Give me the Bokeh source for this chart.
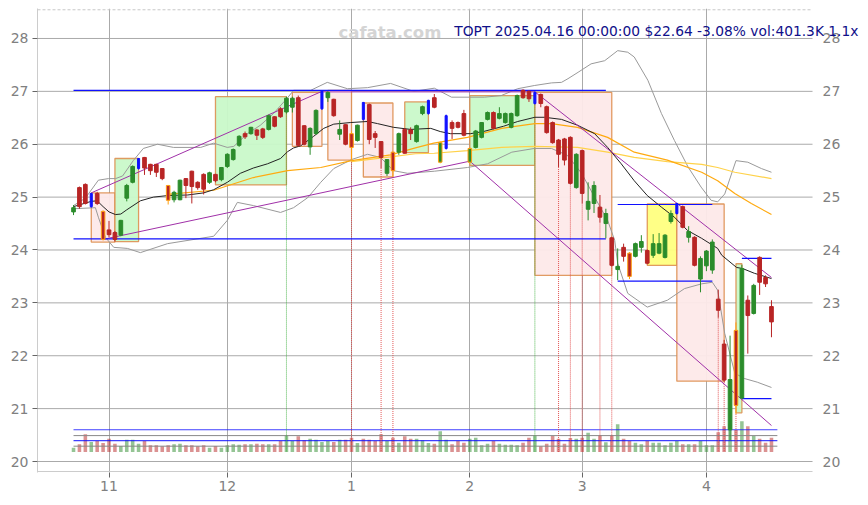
from bokeh.plotting import figure
from bokeh.models import FixedTicker, Range1d, Label
from bokeh.core.properties import value
from bokeh.embed import file_html
from bokeh.resources import INLINE

# ---------------- data ----------------
month_ticks = [6, 26, 47, 67, 86, 107]
month_labels = ["11", "12", "1", "2", "3", "4"]
price_ticks = [20, 21, 22, 23, 24, 25, 26, 27, 28]

opens = [24.72, 25.18, 25.24, 24.82, 25.07, 24.73, 24.38, 24.33, 24.28, 24.98,
         25.28, 25.54, 25.75, 25.62, 25.62, 25.54, 25.22, 24.95, 24.95, 25.35,
         25.49, 25.28, 25.43, 25.28, 25.43, 25.33, 25.58, 25.71, 25.98, 26.20,
         26.20, 26.27, 26.29, 26.28, 26.52, 26.67, 26.61, 26.70, 26.88, 26.35,
         25.95, 26.20, 26.67, 26.88, 26.85, 26.19, 26.37, 26.20, 26.07, 26.79,
         26.75, 26.20, 26.05, 25.45, 25.85, 25.85, 26.28, 26.27, 26.05, 26.58,
         26.58, 26.88, 25.66, 25.92, 26.41, 26.41, 26.58, 25.66, 25.94, 26.13,
         26.47, 26.60, 26.49, 26.41, 26.32, 26.54, 27.02, 27.00, 26.77, 26.94,
         26.71, 26.41, 26.08, 26.10, 26.13, 25.18, 25.88, 24.77, 24.88, 24.81,
         24.50, 24.23, 23.63, 24.05, 23.94, 23.88, 24.05, 23.99, 23.90, 23.94,
         23.86, 24.54, 24.69, 24.82, 24.24, 24.24, 23.45, 23.70, 23.62, 23.07,
         22.22, 20.60, 22.48, 21.20, 23.05, 22.80, 23.86, 23.48, 22.93]
highs = [24.85, 25.20, 25.26, 25.08, 25.10, 24.75, 24.55, 24.36, 24.57, 25.25,
         25.60, 25.74, 25.76, 25.63, 25.63, 25.55, 25.23, 25.12, 25.33, 25.36,
         25.50, 25.30, 25.45, 25.48, 25.44, 25.57, 25.83, 25.92, 26.17, 26.24,
         26.33, 26.29, 26.31, 26.56, 26.53, 26.70, 26.90, 26.90, 26.92, 26.36,
         26.32, 26.66, 27.01, 27.00, 26.86, 26.45, 26.38, 26.25, 26.37, 26.80,
         26.77, 26.25, 26.06, 25.72, 25.86, 26.22, 26.30, 26.32, 26.37, 26.73,
         26.84, 26.95, 26.05, 26.56, 26.45, 26.43, 26.65, 25.94, 26.27, 26.42,
         26.62, 26.62, 26.70, 26.60, 26.60, 26.94, 27.04, 27.02, 27.00, 26.96,
         26.73, 26.43, 26.10, 26.12, 26.15, 25.83, 25.90, 25.28, 25.30, 25.04,
         24.78, 24.25, 24.03, 24.12, 23.96, 24.14, 24.28, 24.01, 24.30, 24.32,
         24.30, 24.75, 24.89, 24.84, 24.45, 24.26, 23.88, 24.00, 24.20, 23.25,
         22.30, 22.38, 22.63, 23.72, 23.14, 23.36, 23.88, 23.52, 23.05]
lows = [24.66, 24.78, 24.86, 24.80, 24.85, 24.18, 24.24, 24.16, 24.26, 24.92,
        25.26, 25.52, 25.42, 25.42, 25.38, 25.32, 24.86, 24.90, 24.94, 24.98,
        24.88, 25.14, 25.05, 25.25, 25.28, 25.30, 25.55, 25.69, 25.95, 26.10,
        26.18, 26.08, 26.10, 26.26, 26.32, 26.50, 26.58, 26.60, 25.95, 25.98,
        25.80, 26.18, 26.65, 26.80, 26.52, 26.08, 25.98, 25.70, 26.05, 26.45,
        26.00, 25.93, 25.55, 25.40, 25.38, 25.80, 25.82, 26.08, 26.03, 26.55,
        26.56, 26.68, 25.64, 25.90, 26.10, 26.30, 26.15, 25.64, 25.92, 26.11,
        26.45, 26.28, 26.47, 26.39, 26.30, 26.52, 26.86, 26.80, 26.75, 26.70,
        26.20, 26.01, 25.57, 25.60, 25.24, 25.16, 24.88, 24.56, 24.70, 24.52,
        24.22, 23.69, 23.43, 23.78, 23.45, 23.86, 23.95, 23.73, 23.85, 23.92,
        23.84, 24.50, 24.67, 24.41, 24.14, 23.69, 23.20, 23.60, 23.55, 22.72,
        21.50, 20.40, 20.90, 21.18, 22.04, 22.78, 23.15, 23.30, 22.35]
closes = [24.80, 24.82, 24.88, 25.07, 24.88, 24.20, 24.29, 24.20, 24.56, 25.22,
          25.58, 25.73, 25.55, 25.50, 25.47, 25.35, 24.94, 25.09, 25.32, 25.22,
          25.20, 25.18, 25.15, 25.46, 25.31, 25.56, 25.81, 25.90, 26.15, 26.14,
          26.32, 26.17, 26.13, 26.54, 26.34, 26.52, 26.87, 26.87, 25.98, 26.00,
          26.30, 26.64, 27.00, 26.98, 26.54, 26.28, 26.00, 25.94, 26.36, 26.47,
          26.09, 26.13, 25.75, 25.71, 25.50, 26.20, 25.83, 26.20, 26.35, 26.71,
          26.83, 26.70, 26.03, 26.54, 26.30, 26.32, 26.17, 25.92, 26.25, 26.41,
          26.60, 26.30, 26.58, 26.58, 26.58, 26.92, 26.88, 26.86, 26.98, 26.77,
          26.22, 26.03, 25.81, 25.70, 25.26, 25.81, 25.07, 24.92, 25.22, 24.62,
          24.69, 23.71, 23.69, 23.88, 23.50, 24.12, 24.16, 23.75, 24.12, 24.12,
          24.28, 24.69, 24.88, 24.43, 24.35, 23.71, 23.84, 23.98, 24.15, 22.86,
          21.54, 21.55, 21.06, 23.65, 22.76, 23.33, 23.39, 23.36, 22.64]
volumes_k = [122, 215, 496, 281, 309, 252, 374, 234, 168, 346,
             346, 234, 309, 187, 187, 159, 187, 215, 234, 187,
             187, 159, 187, 122, 168, 122, 187, 215, 206, 215,
             215, 234, 215, 215, 215, 309, 468, 309, 440, 327,
             374, 346, 281, 309, 281, 346, 346, 402, 252, 374,
             346, 309, 496, 309, 402, 262, 440, 374, 374, 327,
             252, 234, 580, 346, 215, 309, 262, 374, 402, 187,
             234, 309, 234, 206, 206, 187, 262, 402, 468, 159,
             234, 449, 374, 234, 393, 374, 402, 542, 374, 468,
             271, 468, 776, 374, 309, 262, 215, 309, 262, 262,
             187, 262, 309, 215, 215, 215, 309, 187, 187, 552,
             720, 795, 617, 860, 720, 449, 374, 262, 402]
blue_bars = [3, 11, 42, 49, 60, 63, 78, 102]
orange_bars = [5, 16, 47, 54, 62, 67, 94, 112]

# volume reference levels (K)
vol_levels_blue = [624, 319]
vol_levels_gray = [460, 163]

# moving averages / bands (index, value)
ma_fast_x = [0, 3, 4, 5, 6, 7.1, 8, 9, 11.3, 13.5, 16, 19.3, 22, 23.7, 26, 28.2, 30.4, 32.8, 35, 36.2, 37.2,
             38.4, 40.6, 42.3, 44, 46.8, 49.7, 51.4, 54.1, 57, 60.4, 62, 63.7, 67.1, 69.3, 72.7, 75.1, 78,
             79.6, 82.5, 85.2, 88.1, 90.3, 92.6, 94.8, 97, 99.4, 101.6, 103.8, 106.2, 108.9, 109.6, 112.1,
             113.1, 115.1, 118]
ma_fast_y = [24.82, 24.92, 24.93, 24.82, 24.72, 24.67, 24.68, 24.76, 24.93, 25.0, 25.03, 25.04, 25.08, 25.14,
             25.28, 25.45, 25.55, 25.63, 25.73, 25.86, 25.93, 25.97, 26.15, 26.3, 26.38, 26.41, 26.43, 26.39,
             26.32, 26.28, 26.3, 26.24, 26.2, 26.2, 26.24, 26.34, 26.43, 26.51, 26.51, 26.47, 26.36, 26.2,
             25.94, 25.63, 25.31, 25.03, 24.81, 24.62, 24.37, 24.22, 24.03, 23.9, 23.67, 23.65, 23.56, 23.46]
ma_mid_x = [15.9, 23.7, 30.4, 36.2, 41.8, 47, 53.6, 57.8, 60.9, 66.6, 72.4, 78, 80.8, 85.2, 90.3, 94.8,
            100.4, 106.2, 108.9, 111.8, 114.6, 118]
ma_mid_y = [25.05, 25.13, 25.37, 25.5, 25.56, 25.69, 25.8, 25.93, 26.02, 26.13, 26.3, 26.39, 26.39, 26.32,
            26.13, 25.85, 25.7, 25.47, 25.31, 25.07, 24.88, 24.67]
ma_slow_x = [47, 53.6, 57.8, 61, 66.6, 72.4, 78, 85.2, 90.3, 94.8, 100.4, 106.2, 108.9, 111.8, 118]
ma_slow_y = [25.67, 25.76, 25.82, 25.83, 25.88, 25.94, 25.96, 25.94, 25.85, 25.75, 25.67, 25.62, 25.56,
             25.47, 25.35]
band_up_x = [0, 2.0, 4.2, 5.9, 7.1, 8.3, 10.1, 11.8, 14.2, 16.9, 21.5, 23.7, 26.0, 27.1, 29.4, 31.6, 33.8,
             36.2, 37.2, 40.1, 42.9, 46.3, 49.7, 53.6, 57.5, 61.0, 63.9, 69.5, 72.3, 75.1, 77.9, 80.8, 82.5,
             83.6, 85.3, 87.5, 89.8, 92.0, 93.7, 94.8, 97.1, 99.4, 101.6, 103.9, 106.1, 107.8, 108.9, 110.1,
             112.0, 114.0, 116.3, 118.0]
band_up_y = [24.84, 24.98, 25.32, 25.35, 25.35, 25.40, 25.69, 25.92, 26.0, 25.94, 25.94, 26.02, 25.94, 25.96,
             26.2, 26.36, 26.58, 26.88, 27.02, 27.02, 27.17, 27.05, 27.07, 27.15, 27.0, 27.06, 26.89, 26.89,
             26.92, 27.05, 27.11, 27.16, 27.17, 27.24, 27.36, 27.52, 27.58, 27.77, 27.74, 27.65, 27.21, 26.58,
             26.07, 25.57, 25.19, 24.94, 24.91, 25.06, 25.69, 25.66, 25.54, 25.47]
band_lo_x = [0, 3.7, 4.2, 5.4, 6.8, 9.1, 11.3, 15.9, 23.7, 26.0, 27.7, 30.4, 35.0, 37.2, 39.6, 41.8, 44.0,
             47.0, 49.7, 51.9, 54.1, 56.5, 61.0, 66.6, 70.0, 74.1, 77.9, 80.8, 83.5, 85.9, 88.1, 90.3, 91.5,
             92.0, 93.7, 97.0, 100.4, 103.3, 106.2, 108.0, 108.9, 110.1, 111.8, 113.4, 115.6, 118.0]
band_lo_y = [24.78, 24.80, 24.62, 24.24, 24.05, 24.03, 23.95, 24.12, 24.26, 24.56, 24.9, 24.84, 24.71, 24.8,
             24.99, 25.28, 25.54, 25.71, 25.81, 25.75, 25.5, 25.45, 25.49, 25.56, 25.63, 25.85, 25.92, 25.92,
             25.79, 25.45, 25.0, 24.56, 24.18, 23.75, 23.18, 22.92, 23.05, 23.27, 23.36, 23.39, 23.24, 22.42,
             21.67, 21.57, 21.5, 21.4]

# boxes: start idx, end idx, top, bottom, kind
box_start = [3, 7, 24, 37, 43, 49, 56, 67, 78, 97, 102, 112]
box_end = [7, 11, 36, 42, 47, 54, 60, 78, 91, 102, 110, 113]
box_top = [25.08, 25.73, 26.90, 26.98, 27.02, 26.78, 26.80, 26.92, 26.98, 24.87, 24.87, 23.74]
box_bottom = [24.15, 24.16, 25.23, 25.96, 25.70, 25.38, 25.84, 25.60, 23.52, 23.71, 21.52, 20.92]
box_kind = ["pink", "green", "green", "pink", "pink", "pink", "green", "green", "pink", "yellow", "pink", "green"]

# trend lines (purple)
trend_x0 = [3, 42, 78, 5, 67]
trend_y0 = [25.08, 26.99, 26.99, 24.20, 25.68]
trend_x1 = [42, 78, 118, 67, 118]
trend_y1 = [27.00, 26.99, 23.48, 25.68, 20.68]

# support / resistance (blue)
sr_x0 = [0, 0, 92, 92, 113, 113]
sr_x1 = [90, 90, 108, 108, 118, 118]
sr_y = [27.02, 24.21, 24.86, 23.41, 23.84, 21.19]

# signal verticals
sig_idx = [36, 47, 52, 54, 78, 82, 84, 86, 89, 91, 109, 110, 112]
sig_kind = ["g", "r", "r", "r", "g", "r", "r", "r", "r", "r", "r", "r", "r"]

title_text = "TOPT 2025.04.16 00:00:00 $22.64 -3.08% vol:401.3K 1.1x"
watermark = "cafata.com"

# ---------------- layout / styling constants ----------------
X_LO, X_PLOT_HI, X_HI = -6.09, 124.94, 133.39       # plotting area ends at X_PLOT_HI, frame at X_HI
Y_LO, Y_PLOT_LO, Y_PLOT_HI, Y_HI = 19.792, 19.811, 28.543, 28.567
VOL_BASE = 20.18
VOL_K_PER_UNIT = 1485.0
GREEN = "#2b8c2b"
RED = "#b82525"
BLUE = "#1010ff"
ORANGE = "#ffa010"
GRID = "#aaaaaa"
LABEL = "#808080"
FONT = "DejaVu Sans"

N = len(closes)
idx = list(range(N))

p = figure(frame_width=825, frame_height=464, output_backend="svg", toolbar_location=None,
           x_range=Range1d(X_LO, X_HI), y_range=Range1d(Y_LO, Y_HI),
           min_border_left=37, min_border_right=4, min_border_top=8, min_border_bottom=26,
           background_fill_color="white", border_fill_color="white")
p.outline_line_color = None

# axes
p.xaxis.ticker = FixedTicker(ticks=month_ticks)
p.xaxis.major_label_overrides = {t: l for t, l in zip(month_ticks, month_labels)}
p.yaxis.ticker = FixedTicker(ticks=price_ticks)
for ax in [p.xaxis[0], p.yaxis[0]]:
    ax.major_tick_line_color = "#666666"
    ax.major_tick_out = 5
    ax.major_tick_in = 0
    ax.minor_tick_line_color = None
    ax.major_label_text_color = LABEL
    ax.major_label_text_font = FONT
    ax.major_label_text_font_size = "14px"
    ax.major_label_standoff = 4
p.yaxis.axis_line_color = "#cccccc"
p.xaxis.axis_line_color = None
p.xaxis.major_label_standoff = 3

# grid (vertical via axis grid, horizontal drawn only over the plotting area)
p.xgrid.ticker = FixedTicker(ticks=month_ticks)
p.xgrid.grid_line_color = GRID
p.ygrid.grid_line_color = None
p.segment(x0=[X_LO] * len(price_ticks), x1=[X_PLOT_HI] * len(price_ticks), y0=price_ticks, y1=price_ticks,
          line_color=GRID, line_width=1)
# frame edges of plotting area
p.segment(x0=[X_LO], x1=[X_PLOT_HI], y0=[Y_PLOT_HI], y1=[Y_PLOT_HI], line_color="#c8c8c8", line_dash="3 2")
p.segment(x0=[X_LO], x1=[X_PLOT_HI], y0=[Y_PLOT_LO], y1=[Y_PLOT_LO], line_color="#cccccc", line_width=1)
# right-side price labels
p.text(x=[X_PLOT_HI + 1.7] * len(price_ticks), y=price_ticks, text=[str(t) for t in price_ticks],
       text_font=value(FONT), text_font_size="14px", text_color=LABEL,
       text_align="left", text_baseline="middle")

# boxes
box_fill = {"pink": "#fde9e9", "green": "#c9f9c9", "yellow": "#ffff80"}
p.quad(left=box_start, right=box_end, top=box_top, bottom=box_bottom,
       fill_color=[box_fill[k] for k in box_kind], fill_alpha=0.95,
       line_color="#dc8a48", line_alpha=0.85, line_width=1.3)

# volume bars
vol_top = [VOL_BASE + v / VOL_K_PER_UNIT for v in volumes_k]
vol_col = [GREEN if c >= o else RED for o, c in zip(opens, closes)]
p.vbar(x=idx, width=0.6, bottom=VOL_BASE, top=vol_top, fill_color=vol_col, fill_alpha=0.5, line_color=None)

# volume level lines
for v in vol_levels_blue:
    yv = VOL_BASE + v / VOL_K_PER_UNIT
    p.line([0, N], [yv, yv], line_color=BLUE, line_width=1.2, line_alpha=0.8)
for v in vol_levels_gray:
    yv = VOL_BASE + v / VOL_K_PER_UNIT
    p.line([0, N], [yv, yv], line_color="#888888", line_width=1.0)

# signal verticals
p.segment(x0=sig_idx, x1=sig_idx, y0=[lows[i] for i in sig_idx], y1=[VOL_BASE] * len(sig_idx),
          line_color=["#40b040" if k == "g" else "#e04545" for k in sig_kind],
          line_dash="1 1", line_width=1, line_alpha=0.9)

# bands and moving averages
p.line(band_up_x, band_up_y, line_color="#999999", line_width=1)
p.line(band_lo_x, band_lo_y, line_color="#999999", line_width=1)
p.line(ma_slow_x, ma_slow_y, line_color="#ffd24a", line_width=1.2)
p.line(ma_mid_x, ma_mid_y, line_color="#ffaa10", line_width=1.2)
p.line(ma_fast_x, ma_fast_y, line_color="#222222", line_width=1)

# trend lines
p.segment(x0=trend_x0, y0=trend_y0, x1=trend_x1, y1=trend_y1, line_color="#a030a8", line_width=1)

# support / resistance
p.segment(x0=sr_x0, x1=sr_x1, y0=sr_y, y1=sr_y, line_color=BLUE, line_width=1.2)

# candles
wick_col, body_col, body_line, body_w = [], [], [], []
for i in idx:
    up = closes[i] >= opens[i]
    c = GREEN if up else RED
    if i in blue_bars:
        wick_col.append(BLUE); body_col.append(BLUE); body_line.append(BLUE); body_w.append(0.35)
    elif i in orange_bars:
        wick_col.append(ORANGE); body_col.append(c); body_line.append(ORANGE); body_w.append(0.6)
    else:
        wick_col.append(c); body_col.append(c); body_line.append(c); body_w.append(0.62)
p.segment(x0=idx, x1=idx, y0=lows, y1=highs, line_color=wick_col, line_width=1)
p.vbar(x=idx, width=body_w, top=[max(o, c) for o, c in zip(opens, closes)],
       bottom=[min(o, c) for o, c in zip(opens, closes)],
       fill_color=body_col, line_color=body_line, line_width=1)

# texts
p.add_layout(Label(x=44.8, y=28.12, text=watermark, text_font=FONT, text_font_size="16.5px",
                   text_font_style="bold", text_color="#d4d4d4", text_align="left", text_baseline="alphabetic"))
p.add_layout(Label(x=132.7, y=28.14, text=title_text, text_font=FONT, text_font_size="13.8px",
                   text_color="#10108a", text_align="right", text_baseline="alphabetic"))

open("out.html", "w").write(file_html(p, INLINE))
